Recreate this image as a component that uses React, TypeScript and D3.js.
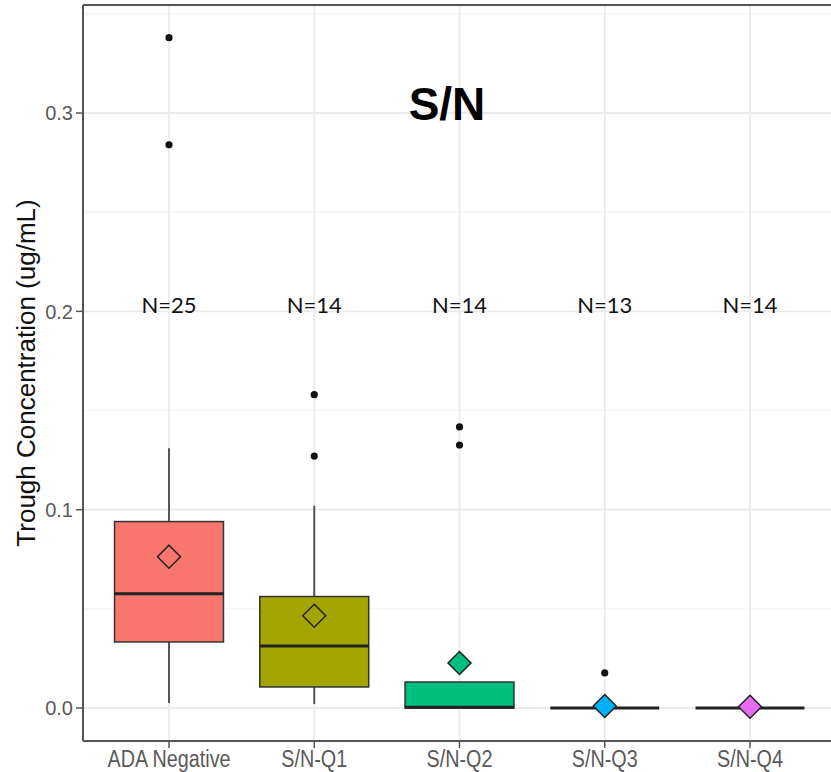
import React from 'react';
import * as d3 from 'd3';

const categories = ['ADA Negative', 'S/N-Q1', 'S/N-Q2', 'S/N-Q3', 'S/N-Q4'];
const counts = [25, 14, 14, 13, 14];
const q1 = [0.0333, 0.0106, 0.0, 0.0, 0.0];
const medians = [0.0576, 0.0313, 0.0004, 0.0, 0.0];
const q3 = [0.094, 0.0562, 0.0131, 0.0, 0.0];
const whiskerLow = [0.0025, 0.002, 0.0, 0.0, 0.0];
const whiskerHigh = [0.131, 0.102, 0.0131, 0.0, 0.0];
const means = [0.0763, 0.0465, 0.0227, 0.001, 0.0006];
const outliers = [[0.338, 0.284], [0.158, 0.127], [0.1417, 0.1326], [0.0177], []];
const colors = ['#F8766D', '#A3A500', '#00BF7D', '#00B0F6', '#E76BF3'];
const yTicks = [0, 0.1, 0.2, 0.3];
const yMinor = [0.05, 0.15, 0.25, 0.35];

const W = 831;
const H = 772;
const panelLeft = 83;
const panelTop = 5;
const panelBottom = 741;

export default function App() {
  const x = d3.scalePoint<string>().domain(categories).range([169, 750]);
  const step = x.step();
  const panelRight = 750 + step * 0.6;
  const y = d3.scaleLinear().domain([0, 0.3]).range([708, 113]);
  const bw = step * 0.75;
  const diamond = (cx: number, cy: number, r: number) =>
    `M${cx},${cy - r}L${cx + r},${cy}L${cx},${cy + r}L${cx - r},${cy}Z`;

  return (
    <svg width={W} height={H} style={{ position: 'absolute', left: 0, top: 0, background: '#fff' }}>
      <rect x={0} y={0} width={W} height={H} fill="#fff" />
      {/* grid */}
      {yMinor.map((v) => (
        <line key={'mi' + v} x1={panelLeft} x2={panelRight} y1={y(v)} y2={y(v)} stroke="#f4f4f4" strokeWidth={1.2} />
      ))}
      {yTicks.map((v) => (
        <line key={'ma' + v} x1={panelLeft} x2={panelRight} y1={y(v)} y2={y(v)} stroke="#ebebeb" strokeWidth={1.8} />
      ))}
      {categories.map((c) => (
        <line key={'vg' + c} x1={x(c)} x2={x(c)} y1={panelTop} y2={panelBottom} stroke="#ebebeb" strokeWidth={1.8} />
      ))}

      {/* title and N labels */}
      <text x={447} y={120} textAnchor="middle" fontFamily="Liberation Sans, Arial, sans-serif" fontWeight="bold" fontSize={46} fill="#000">
        S/N
      </text>
      {categories.map((c, i) => (
        <text key={'n' + c} x={x(c)} y={313} textAnchor="middle" fontFamily="Lato, sans-serif" fontSize={22} fill="#111">
          {`N=${counts[i]}`}
        </text>
      ))}

      {/* boxes */}
      {categories.map((c, i) => {
        const cx = x(c) as number;
        return (
          <g key={'b' + c}>
            <line x1={cx} x2={cx} y1={y(q3[i])} y2={y(whiskerHigh[i])} stroke="#555" strokeWidth={2} />
            <line x1={cx} x2={cx} y1={y(q1[i])} y2={y(whiskerLow[i])} stroke="#555" strokeWidth={2} />
            <rect
              x={cx - bw / 2}
              y={y(q3[i])}
              width={bw}
              height={Math.max(0, y(q1[i]) - y(q3[i]))}
              fill={colors[i]}
              stroke="#333"
              strokeWidth={1.5}
            />
            <line x1={cx - bw / 2} x2={cx + bw / 2} y1={y(medians[i])} y2={y(medians[i])} stroke="#222" strokeWidth={3} />
            {outliers[i].map((o, j) => (
              <circle key={j} cx={cx} cy={y(o)} r={3.6} fill="#111" />
            ))}
            <path d={diamond(cx, y(means[i]), 11.5)} fill={colors[i]} stroke="#222" strokeWidth={1.5} />
          </g>
        );
      })}

      {/* panel border */}
      <line x1={panelLeft} x2={panelLeft} y1={panelTop} y2={panelBottom} stroke="#555" strokeWidth={2} />
      <line x1={panelLeft} x2={W} y1={panelTop} y2={panelTop} stroke="#555" strokeWidth={2} />
      <line x1={panelLeft} x2={W} y1={panelBottom} y2={panelBottom} stroke="#555" strokeWidth={2} />

      {/* y axis */}
      {yTicks.map((v) => (
        <g key={'yt' + v}>
          <line x1={panelLeft - 7} x2={panelLeft} y1={y(v)} y2={y(v)} stroke="#555" strokeWidth={1.5} />
          <text x={panelLeft - 10} y={y(v)} dy="0.36em" textAnchor="end" fontFamily="Liberation Sans, Arial, sans-serif" fontSize={20} fill="#5a5a5a">
            {d3.format('.1f')(v)}
          </text>
        </g>
      ))}
      <text
        transform={`translate(35,${(panelTop + panelBottom) / 2}) rotate(-90)`}
        textAnchor="middle"
        fontFamily="Liberation Sans, Arial, sans-serif"
        fontSize={26}
        fill="#111"
      >
        Trough Concentration (ug/mL)
      </text>

      {/* x axis */}
      {categories.map((c) => (
        <g key={'xt' + c}>
          <line x1={x(c)} x2={x(c)} y1={panelBottom} y2={panelBottom + 7} stroke="#555" strokeWidth={1.5} />
          <text
            transform={`translate(${x(c)},767) scale(0.86,1)`}
            textAnchor="middle"
            fontFamily="Liberation Sans, Arial, sans-serif"
            fontSize={23}
            fill="#5a5a5a"
          >
            {c}
          </text>
        </g>
      ))}
    </svg>
  );
}
